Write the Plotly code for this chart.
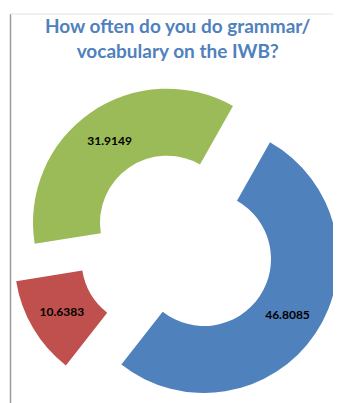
import plotly.graph_objects as go

labels = ["A", "B", "C"]
values = [46.8085, 10.6383, 31.9149]
colors = ["#4F81BD", "#C0504D", "#9BBB59"]
title_text = "How often do you do grammar/<br>vocabulary on the IWB?"

# the page body has an 8px margin, so the figure is sized/placed accordingly
W, H = 333, 395
OFF = 8
R = 134  # outer radius in px

# centre (page px) of each exploded slice
centers = [(204, 259), (148.5, 260), (167, 222.7)]

fig = go.Figure()
for i, (cx, cy) in enumerate(centers):
    cx -= OFF
    cy -= OFF
    cols = ["rgba(0,0,0,0)"] * len(values)
    cols[i] = colors[i]
    tt = [""] * len(values)
    tt[i] = "%{value}"
    fig.add_trace(go.Pie(
        labels=labels,
        values=values,
        hole=0.5,
        sort=False,
        direction="clockwise",
        rotation=29.5,
        marker=dict(colors=cols, line=dict(width=0)),
        texttemplate=tt,
        textposition="inside",
        insidetextorientation="horizontal",
        textfont=dict(family="Lato", size=12, color="#000000", weight="bold"),
        showlegend=False,
        hoverinfo="label+value",
        domain=dict(x=[(cx - R) / W, (cx + R) / W],
                    y=[(H - (cy + R)) / H, (H - (cy - R)) / H]),
    ))

fig.add_annotation(
    text=title_text, x=(178 - OFF) / W, y=1 - 4 / H, xref="paper", yref="paper",
    xanchor="center", yanchor="top", showarrow=False, align="center",
    font=dict(family="Lato", size=19, color="#4F81BD", weight="bold"),
)

fig.add_shape(type="line", xref="paper", yref="paper",
              x0=(10.5 - OFF) / W, x1=(10.5 - OFF) / W, y0=0, y1=1 - (14 - OFF) / H,
              line=dict(color="#9A9A9A", width=1.5))
fig.add_shape(type="line", xref="paper", yref="paper",
              x0=(10.5 - OFF) / W, x1=1, y0=1 - (14 - OFF) / H, y1=1 - (14 - OFF) / H,
              line=dict(color="#E2E2E2", width=1))

fig.update_layout(
    width=W, height=H,
    margin=dict(l=0, r=0, t=0, b=0),
    paper_bgcolor="white", plot_bgcolor="white",
)

fig.write_html("out.html")
